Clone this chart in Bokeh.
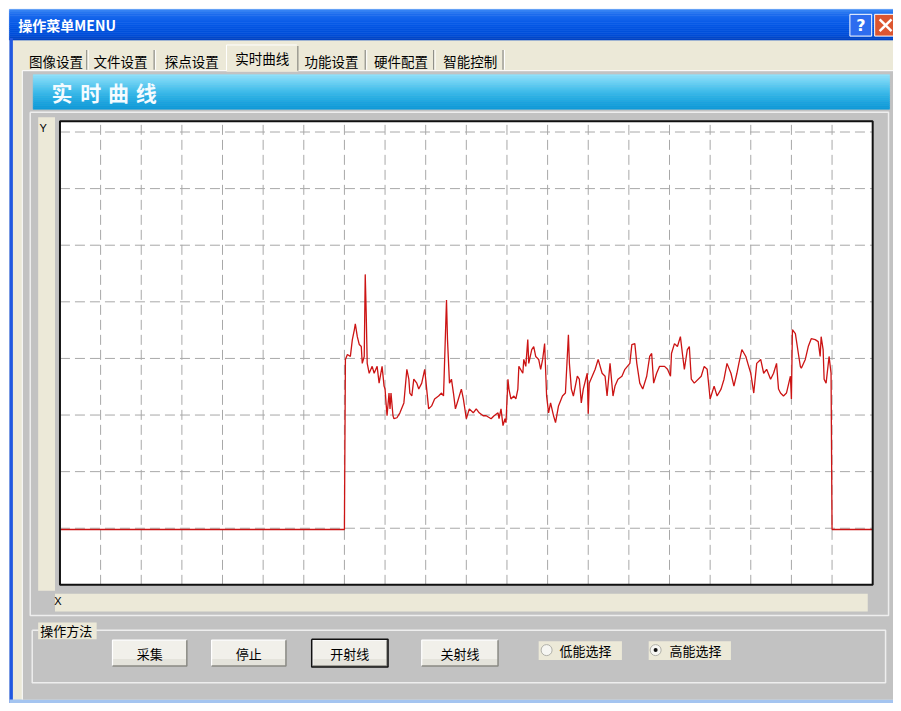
import numpy as np
from bokeh.plotting import figure
from bokeh.models import Range1d
from bokeh.core.properties import value
from bokeh.embed import file_html
from bokeh.resources import INLINE

# ---------------- data ----------------
# sample position along X (plot spans 20 grid divisions of 41 samples)
sample = [
    0, 287, 288, 290, 293, 295, 297, 298, 300, 302,
    304, 305, 307, 308, 309, 310, 312, 315, 317, 320,
    322, 325, 327, 328, 329, 330, 332, 333, 334, 336,
    337, 340, 343, 347, 350, 352, 353, 355, 357, 360,
    362, 365, 368, 370, 372, 375, 378, 382, 385, 387,
    390, 391, 393, 395, 397, 399, 402, 405, 407, 410,
    413, 417, 420, 423, 427, 430, 435, 438, 442, 443,
    445, 447, 449, 450, 452, 453, 455, 458, 460, 462,
    463, 467, 468, 470, 472, 473, 476, 478, 480, 483,
    485, 487, 489, 491, 493, 495, 498, 500, 503, 507,
    510, 513, 514, 516, 518, 522, 524, 526, 528, 532,
    533, 534, 537, 540, 543, 547, 550, 552, 555, 558,
    560, 563, 567, 570, 575, 577, 580, 582, 585, 588,
    592, 595, 597, 599, 602, 605, 610, 613, 616, 617,
    620, 623, 626, 628, 630, 633, 635, 637, 640, 647,
    650, 653, 656, 660, 663, 667, 670, 673, 677, 680,
    683, 685, 688, 692, 694, 697, 700, 703, 707, 710,
    713, 717, 720, 723, 725, 727, 730, 733, 737, 738,
    739, 742, 745, 747, 748, 752, 755, 758, 762, 765,
    767, 768, 770, 771, 773, 776, 778, 779, 820,
]
# signal level (plot spans 8 grid divisions of 57.25 units above the bottom edge)
level = [
    56, 56, 228, 233, 231, 248, 258, 264, 251, 243,
    241, 224, 231, 314, 274, 224, 214, 221, 214, 221,
    204, 221, 201, 198, 184, 171, 194, 178, 194, 171,
    168, 169, 174, 184, 218, 208, 194, 191, 208, 204,
    198, 204, 218, 198, 178, 181, 188, 191, 194, 191,
    288, 248, 204, 208, 194, 178, 188, 198, 188, 168,
    178, 174, 178, 174, 171, 171, 168, 171, 174, 168,
    178, 161, 168, 164, 208, 198, 188, 191, 188, 198,
    221, 214, 228, 221, 248, 224, 238, 241, 231, 228,
    218, 228, 244, 191, 174, 184, 171, 164, 181, 191,
    194, 253, 224, 198, 191, 211, 208, 184, 198, 214,
    173, 204, 211, 218, 228, 214, 211, 191, 224, 191,
    201, 208, 211, 218, 224, 243, 244, 224, 204, 198,
    211, 231, 234, 204, 214, 221, 221, 218, 211, 234,
    244, 241, 251, 234, 218, 238, 241, 208, 204, 211,
    221, 218, 188, 201, 191, 198, 208, 224, 214, 201,
    214, 224, 238, 231, 224, 214, 194, 224, 228, 214,
    218, 208, 214, 224, 198, 194, 191, 194, 211, 188,
    258, 254, 234, 221, 219, 228, 241, 249, 248, 246,
    231, 251, 238, 208, 204, 231, 214, 56, 56,
]
x_grid_ticks = [41, 82, 123, 164, 205, 246, 287, 328, 369, 410,
                451, 492, 533, 574, 615, 656, 697, 738, 779]
y_grid_ticks = [57.25, 114.5, 171.75, 229.0, 286.25, 343.5, 400.75, 458.0]
x_span = [0, 820]
y_span = [0, 469]

window_title = "操作菜单MENU"
tab_labels = ["图像设置", "文件设置", "探点设置", "实时曲线", "功能设置", "硬件配置", "智能控制"]
panel_title = ["实", "时", "曲", "线"]
axis_labels = ["Y", "X"]
group_title = "操作方法"
button_labels = ["采集", "停止", "开射线", "关射线"]
radio_labels = ["低能选择", "高能选择"]

# ---------------- figure (window coordinates, y down) ----------------
W, H = 901, 711
p = figure(width=893, height=703, x_range=Range1d(0, W), y_range=Range1d(H, 0),
           output_backend="svg", toolbar_location=None, min_border=0,
           x_axis_location=None, y_axis_location=None)
p.grid.visible = False
p.outline_line_color = None
p.background_fill_color = "white"
p.border_fill_color = "white"

# chart area placement inside the window
PL, PR, PT, PB = 60, 880, 122, 591
p.extra_x_ranges = {"cx": Range1d(x_span[0] - PL, x_span[1] + (W - PR))}
p.extra_y_ranges = {"cy": Range1d(y_span[0] - (H - PB), y_span[1] + PT)}

CJK = value("Noto Sans CJK SC")
BEIGE = "#ECE9D8"
GRAY = "#C2C2C2"
LIGHT = "#EEEEEE"


def box(l, r, t, b, color, line=None, lw=1):
    p.quad(left=l, right=r, top=t, bottom=b, fill_color=color, line_color=line, line_width=lw)


def rect_outline(l, r, t, b, color, lw=1):
    p.line([l, r, r, l, l], [t, t, b, b, t], line_color=color, line_width=lw)


def hex2rgb(h):
    return [int(h[i:i + 2], 16) for i in (1, 3, 5)]


def gradient(l, r, t0, t1, stops, n):
    edges = np.linspace(t0, t1, n + 1)
    fr = [s[0] for s in stops]
    cols = [hex2rgb(s[1]) for s in stops]
    colors = []
    for i in range(n):
        f = (i + 0.5) / n
        c = [int(round(np.interp(f, fr, [cc[k] for cc in cols]))) for k in range(3)]
        colors.append("#%02x%02x%02x" % tuple(c))
    p.quad(left=[l] * n, right=[r] * n, top=list(edges[:-1]), bottom=list(edges[1:]),
           fill_color=colors, line_color=colors, line_width=0.6)


# window body
box(9, W, 38, H, BEIGE)
# title bar
gradient(9, W, 9, 40, [(0, "#3E8CF6"), (0.15, "#1D6CEE"), (0.5, "#0558E6"), (0.85, "#004ED8"), (1, "#0040C0")], 16)
# left window border and bottom border
box(9, 12.5, 38, H, "#2158E0")
box(9, W, 707, H, "#A4C4F0")
# help and close buttons
box(857, 879, 14, 36, "#2D6CEF", line="white", lw=1)
box(882, 906, 14, 36, "#DC5630", line="white", lw=1)
p.segment(x0=[887, 899], y0=[19, 19], x1=[899, 887], y1=[31, 31], line_color="white", line_width=2.5)

# tab page (gray)
box(22, W, 71, 707, GRAY)
p.line([22, W], [71, 71], line_color="white", line_width=1)
p.line([22, 22], [71, 707], line_color="white", line_width=1)
# selected tab
box(228, 300, 44, 72, BEIGE)
p.line([228, 228, 299], [71, 45, 45], line_color="white", line_width=1)
p.line([300, 300], [46, 71], line_color="#8A8A82", line_width=1.2)
# tab separators
sep_x = [87, 155, 368, 437, 507]
p.segment(x0=sep_x, y0=[50] * 5, x1=sep_x, y1=[70] * 5, line_color="#8E8E88", line_width=1.2)
p.segment(x0=[x + 1.5 for x in sep_x], y0=[50] * 5, x1=[x + 1.5 for x in sep_x], y1=[70] * 5,
          line_color="white", line_width=1)

# blue banner
gradient(33, 897, 75, 110, [(0, "#92E2FB"), (0.3, "#5FCBF2"), (0.65, "#2AB0E4"), (1, "#0E98D8")], 18)

# chart panel (raised frame)
rect_outline(30, 896, 113, 622, LIGHT, 1.5)
box(38, 55, 118, 597, BEIGE)
box(55, 875, 600, 618, BEIGE)

# ---------------- chart (own ranges) ----------------
p.quad(left=x_span[0], right=x_span[1], bottom=y_span[0], top=y_span[1],
       fill_color="white", line_color=None, x_range_name="cx", y_range_name="cy")
nv, nh = len(x_grid_ticks), len(y_grid_ticks)
p.segment(x0=x_grid_ticks, y0=[y_span[0]] * nv, x1=x_grid_ticks, y1=[y_span[1]] * nv,
          line_color="#A8A8A8", line_width=1, line_dash="10 5",
          x_range_name="cx", y_range_name="cy")
p.segment(x0=[x_span[0]] * nh, y0=y_grid_ticks, x1=[x_span[1]] * nh, y1=y_grid_ticks,
          line_color="#A8A8A8", line_width=1, line_dash="10 5",
          x_range_name="cx", y_range_name="cy")
p.line(sample, level, line_color="#CC1414", line_width=1.3,
       x_range_name="cx", y_range_name="cy")
p.quad(left=x_span[0], right=x_span[1], bottom=y_span[0], top=y_span[1],
       fill_color=None, line_color="#111111", line_width=2, x_range_name="cx", y_range_name="cy")

# ---------------- lower group box ----------------
rect_outline(32, 893, 637, 690, LIGHT, 1.5)
box(38, 97, 629, 646, BEIGE)

btn_l = [113, 213, 315, 425]
btn_r = [188, 288, 390, 502]
for i, (l, r) in enumerate(zip(btn_l, btn_r)):
    box(l, r, 647, 673, "#F1F0EA")
    box(l, r, 666, 673, "#E4E3DB")
    p.line([l, l, r], [673, 647, 647], line_color="white", line_width=1.2)
    p.line([l, r, r], [673, 673, 647], line_color="#8A8A84", line_width=1.5)
    if i == 2:
        rect_outline(l - 1, r + 1, 646, 674, "#111111", 1.5)

rad_l = [543, 654]
rad_r = [627, 737]
for l, r in zip(rad_l, rad_r):
    box(l, r, 648, 667, BEIGE)
p.scatter([551, 661], [657, 657], marker="circle", size=11, fill_color="#F6F6F2",
          line_color="#B0B0A8", line_width=1)
p.scatter([661], [657], marker="circle", size=4, fill_color="#111111", line_color=None)

# ---------------- texts ----------------
p.text(x=[18], y=[25], text=[window_title], text_font=CJK, text_font_size="14px",
       text_font_style="bold", text_color="white", text_baseline="middle", text_align="left")
p.text(x=[868], y=[25.5], text=["?"], text_font=value("DejaVu Sans"), text_font_size="16px",
       text_font_style="bold", text_color="white", text_baseline="middle", text_align="center")

tab_x = [56, 121, 193, 264, 334, 404, 474]
tab_y = [61, 61, 61, 58, 61, 61, 61]
p.text(x=tab_x, y=tab_y, text=tab_labels, text_font=CJK, text_font_size="13.5px",
       text_color="black", text_baseline="middle", text_align="center")

p.text(x=[62, 91, 119, 147], y=[93] * 4, text=panel_title, text_font=CJK, text_font_size="21px",
       text_font_style="bold", text_color="#F4FBFF", text_baseline="middle", text_align="center")

p.text(x=[43, 58], y=[129, 607], text=axis_labels, text_font=value("Liberation Sans"),
       text_font_size="11px", text_color="black", text_baseline="middle", text_align="center")

p.text(x=[40], y=[637], text=[group_title], text_font=CJK, text_font_size="13px",
       text_color="black", text_baseline="middle", text_align="left")

p.text(x=[(l + r) / 2 for l, r in zip(btn_l, btn_r)], y=[660] * 4, text=button_labels,
       text_font=CJK, text_font_size="13px", text_color="black",
       text_baseline="middle", text_align="center")

p.text(x=[564, 675], y=[657, 657], text=radio_labels, text_font=CJK, text_font_size="13px",
       text_color="black", text_baseline="middle", text_align="left")

open("out.html", "w").write(file_html(p, INLINE))
